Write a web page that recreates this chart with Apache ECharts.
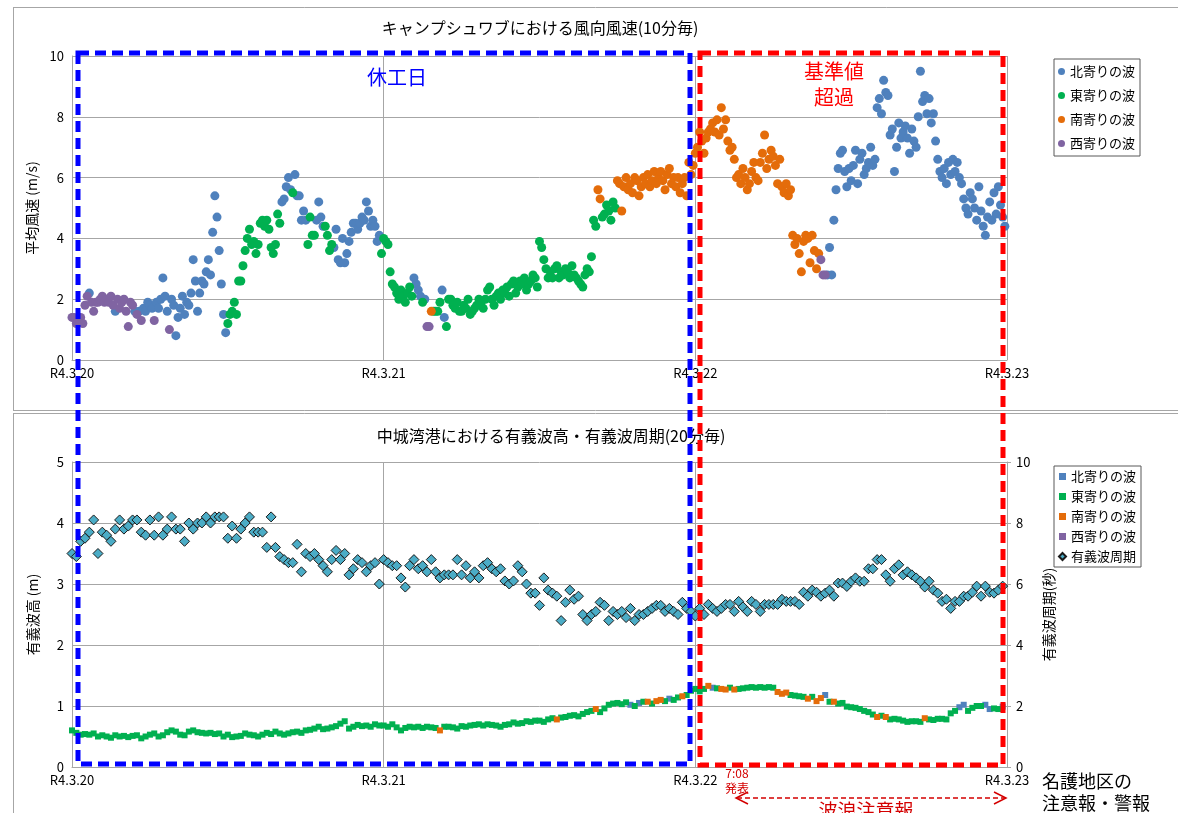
<!DOCTYPE html>
<html>
<head>
<meta charset="utf-8">
<script src="https://cdn.jsdelivr.net/npm/echarts@6/dist/echarts.min.js"></script>
<style>
html,body{margin:0;padding:0;background:#fff;}
#c{width:1178px;height:813px;}
</style>
</head>
<body>
<div id="c"></div>
<script>
// ---- Data ----
const dateLabels = ['R4.3.20', 'R4.3.21', 'R4.3.22', 'R4.3.23'];
const dirCodes = ['N', 'E', 'S', 'W'];
const dirNames = ['北寄りの波', '東寄りの波', '南寄りの波', '西寄りの波'];
const periodName = '有義波周期';

// 10-minute mean wind speed (m/s), 6 values per hour, 72 hours from R4.3.20 0:00
const windSpeed = [
 1.4,1.4,1.2,1.3,1.4,1.2, 1.8,2.1,2.2,1.9,1.6,1.9, 1.9,2.0,2.1,1.9,2.0,1.9, 2.1,1.8,1.6,2.0,1.7,1.9,
 2.0,1.6,1.1,1.9,1.8,1.6, 1.5,1.6,1.3,1.7,1.6,1.9, 1.8,1.7,1.3,1.9,1.7,2.0, 2.7,2.1,1.6,1.0,2.0,1.8,
 0.8,1.4,1.7,2.1,1.5,1.9, 1.8,2.2,3.3,2.6,1.6,2.2, 2.6,2.5,2.9,3.3,2.8,4.2, 5.4,4.7,3.6,2.5,1.5,0.9,
 1.2,1.5,1.6,1.9,1.5,2.6, 2.6,3.1,3.6,4.0,4.3,3.8, 3.9,3.5,3.8,4.5,4.6,4.4, 4.6,4.3,3.7,3.5,3.8,4.8,
 4.5,5.2,5.3,5.7,6.0,5.6, 5.5,6.1,5.4,5.4,4.6,4.9, 4.6,3.8,4.7,4.1,4.1,4.6, 5.2,4.7,4.4,4.4,4.1,3.6,
 3.8,3.7,4.3,3.3,3.2,4.0, 3.2,3.5,3.9,4.2,4.5,4.5, 4.3,4.5,4.7,4.6,5.2,4.9, 4.4,4.6,4.4,3.9,4.1,3.5,
 4.0,3.9,3.8,2.9,2.5,2.4, 2.2,2.0,2.3,2.1,1.9,2.2, 2.4,2.1,2.7,2.5,2.3,2.1, 1.9,2.0,1.1,1.1,1.6,1.6,
 1.6,1.6,1.9,2.3,1.4,1.1, 2.0,2.0,1.8,1.7,1.9,1.6, 1.6,1.8,1.7,2.0,1.5,1.6, 1.7,1.8,2.0,1.9,1.7,2.0,
 2.3,2.4,2.0,1.8,2.1,2.2, 2.0,2.3,2.2,2.4,2.1,2.5, 2.6,2.2,2.4,2.6,2.5,2.7, 2.3,2.5,2.6,2.8,2.7,2.4,
 3.9,3.7,3.3,3.0,2.7,2.9, 2.7,3.0,3.1,2.7,2.9,2.8, 3.0,2.9,2.7,3.1,2.8,2.7, 2.6,2.5,2.4,2.8,3.0,2.9,
 3.4,4.6,4.4,5.6,5.3,4.7, 4.8,5.1,4.9,4.6,5.2,5.0, 5.9,5.8,4.9,5.7,6.0,5.6, 5.8,5.5,6.0,5.9,5.4,5.7,
 6.0,5.8,6.1,5.7,5.9,6.2, 5.8,6.0,6.2,5.9,5.6,6.1, 6.3,5.8,6.0,5.7,6.0,5.5, 5.8,6.0,5.4,6.5,6.1,6.4,
 6.8,7.0,7.5,7.2,6.8,7.3, 7.5,7.6,7.8,7.5,7.9,7.4, 8.3,7.6,7.9,7.2,6.9,7.0, 6.6,6.0,6.1,5.8,6.3,6.0,
 5.6,5.8,6.2,6.5,6.0,5.9, 6.5,6.8,7.4,6.3,6.6,6.9, 6.7,6.4,5.8,6.6,5.7,5.5, 5.8,5.4,5.6,4.1,3.8,4.0,
 3.5,2.9,3.9,4.1,4.0,3.2, 4.1,3.6,3.0,3.5,3.3,2.8, 2.8,2.8,3.7,2.8,4.6,5.6, 6.3,6.8,6.9,6.2,5.7,6.3,
 5.9,6.4,6.9,5.8,6.6,6.8, 6.1,6.3,6.5,7.0,6.4,6.6, 8.3,8.6,8.1,9.2,8.8,8.7, 7.4,7.6,6.2,7.0,7.8,7.3,
 7.5,7.7,7.3,6.8,7.6,7.2, 7.0,8.0,9.5,8.5,8.7,8.1, 8.6,7.8,8.1,7.2,6.6,6.2, 6.0,6.3,5.8,6.5,6.1,6.6,
 6.2,6.5,6.0,5.8,5.3,5.0, 4.8,5.5,5.3,5.0,4.6,5.7, 4.9,4.4,4.1,4.7,5.2,4.6, 5.5,4.8,5.7,5.1,4.7,4.4
];
// wind direction class for each 10-minute value (N/E/S/W)
const windDir = (
 'WWWWWW WWNWWW WWWWWW WWNWWW WWWWWN WNWNNN NNWNNN NNNWNN ' +
 'NNNNNN NNNNNN NNNNNN NNNNNN EEEEEE EEEEEE EEEEEE EEEEEE ' +
 'ENNNNN ENNNNN NEEEEN NNNEEE ENNNNN NNNNNN NNNNNN NNNNNE ' +
 'EEEEEE EEEEEE EENNNN ENWWSE EEENNE EEEEEE EEEEEE EEEEEE ' +
 'EEEEEE EEEEEE EEEEEE EEEEEE EEEEEE EEEEEE EEEEEE EEEEEE ' +
 'EEESSE EEEEEE SSSSSS SSSSSS SSSSSS SSSSSS SSSSSS SSSSSS ' +
 'SSSSSS SSSSSS SSSSSS SSSSSS SSSSSS SSSSSS SSSSSS SSSSSS ' +
 'SSSSSS SSSSWW WNNNNN NNNNNN NNNNNN NNNNNN NNNNNN NNNNNN ' +
 'NNNNNN NNNNNN NNNNNN NNNNNN NNNNNN NNNNNN NNNNNN NNNNNN'
).replace(/ /g, '').split('');

// 20-minute significant wave height (m), 3 values per hour
const waveHeight = [
 0.60,0.56,0.53, 0.54,0.53,0.55, 0.50,0.52,0.50, 0.48,0.52,0.50, 0.51,0.49,0.51, 0.52,0.47,0.50,
 0.53,0.55,0.50, 0.52,0.57,0.60, 0.58,0.53,0.52, 0.58,0.60,0.57, 0.56,0.55,0.56, 0.54,0.55,0.50,
 0.53,0.49,0.50, 0.51,0.55,0.53, 0.52,0.50,0.53, 0.56,0.54,0.58, 0.55,0.53,0.55, 0.57,0.58,0.56,
 0.60,0.61,0.63, 0.66,0.62,0.63, 0.65,0.67,0.71, 0.75,0.63,0.66, 0.69,0.67,0.68, 0.66,0.70,0.68,
 0.68,0.66,0.70, 0.65,0.60,0.64, 0.66,0.65,0.66, 0.64,0.66,0.65, 0.64,0.60,0.66, 0.66,0.65,0.63,
 0.67,0.66,0.68, 0.69,0.70,0.68, 0.70,0.69,0.68, 0.66,0.69,0.70, 0.73,0.71,0.72, 0.75,0.74,0.76,
 0.76,0.74,0.78, 0.80,0.78,0.81, 0.82,0.84,0.85, 0.83,0.87,0.90, 0.92,0.95,0.90, 0.96,1.02,1.04,
 1.05,1.03,1.06, 1.02,1.00,1.05, 1.07,1.07,1.04, 1.08,1.10,1.08, 1.12,1.10,1.14, 1.16,1.18,1.25,
 1.28,1.24,1.28, 1.33,1.30,1.29, 1.28,1.27,1.30, 1.27,1.28,1.29, 1.30,1.31,1.30, 1.31,1.30,1.31,
 1.30,1.23,1.20, 1.22,1.18,1.17, 1.16,1.15,1.12, 1.15,1.08,1.13, 1.18,1.07,1.07, 1.04,1.05,0.99,
 0.98,0.97,0.95, 0.92,0.90,0.86, 0.82,0.84,0.82, 0.78,0.79,0.78, 0.76,0.74,0.75, 0.75,0.74,0.80,
 0.78,0.77,0.79, 0.79,0.78,0.88, 0.92,0.98,1.02, 0.92,0.97,1.00, 1.00,1.02,0.95, 0.96,0.95,0.99
];
const waveDir = (
 'EEE EEE EEE EEE EEE EEE EEE EEE EEE EEE EEE EEE ' +
 'EEE EEE EEE EEE EEE EEE EEE EEE EEE EEE EEE EEE ' +
 'EEE EEE EEE EEE ESE EEE EEE EEE EEE EEE EEE EEE ' +
 'EEE ESE EEE EEE ESE EEE EEE NEN ESE SSE NEE SEE ' +
 'EEE SNE SSE SEE EEE EEE ESS SEE EES ESS NES EEE ' +
 'EEE EEE SES EEE EEE EES EEE EEE ENN EEE ENN EEN'
).replace(/ /g, '').split('');

// significant wave period (s), 3 values per hour
const wavePeriod = [
 7.0,6.9,7.4,7.5,7.7,8.1,7.0,7.7,7.6,7.4,7.8,8.1,7.8,7.9,8.1,8.1,7.7,7.6,8.1,7.6,8.2,7.6,7.8,8.2,
 7.8,7.8,7.4,8.0,7.8,8.0,8.0,8.2,8.0,8.2,8.2,8.2,7.5,7.9,7.5,7.8,8.0,8.2,7.7,7.7,7.7,7.2,8.2,7.2,
 6.9,6.8,6.7,6.7,7.3,6.4,7.0,6.9,7.0,6.8,6.6,6.4,6.8,7.1,6.8,7.0,6.3,6.5,6.8,6.7,6.4,6.6,6.7,6.0,
 6.8,6.7,6.6,6.6,6.2,5.9,6.6,6.8,6.5,6.6,6.4,6.8,6.4,6.2,6.3,6.3,6.3,6.8,6.3,6.6,6.2,6.4,6.2,6.6,
 6.7,6.5,6.4,6.5,6.1,6.0,6.1,6.6,6.4,6.0,5.7,5.7,5.3,6.2,5.8,5.7,5.6,4.8,5.4,5.8,5.5,5.6,5.0,4.8,
 5.0,5.1,5.4,5.3,4.8,5.1,5.0,5.1,4.9,5.2,4.8,5.0,5.0,5.1,5.2,5.3,5.3,5.1,5.2,5.1,5.0,5.4,5.2,5.1,
 4.95,5.2,5.0,5.33,5.2,5.1,5.2,5.33,5.33,5.1,5.43,5.25,5.1,5.43,5.33,5.1,5.33,5.33,5.33,5.33,5.5,5.43,5.43,5.43,
 5.33,5.73,5.6,5.8,5.73,5.6,5.7,5.8,5.6,6.03,6.03,5.92,6.09,6.2,6.09,6.09,6.5,6.5,6.8,6.8,6.3,6.09,6.5,6.63,
 6.3,6.4,6.3,6.2,6.09,5.9,6.09,5.8,5.7,5.43,5.5,5.2,5.43,5.43,5.6,5.6,5.73,5.93,5.6,5.93,5.73,5.7,5.8,5.93
];

// ---- Styles ----
const dirColors = ['#4f81bd', '#00b050', '#e46c0a', '#8064a2'];
const periodColor = '#4bacc6';
const FONT = '"Noto Sans CJK JP", "Noto Sans", sans-serif';
const gridColor = '#a6a6a6';

const chart = echarts.init(document.getElementById('c'), null, { renderer: 'canvas' });

function xAxis(gridIndex) {
  return {
    type: 'value', gridIndex, min: 0, max: 72, interval: 24,
    axisLine: { show: true, lineStyle: { color: gridColor } },
    axisTick: { show: false },
    splitLine: { show: true, lineStyle: { color: gridColor } },
    axisLabel: {
      color: '#000', fontSize: 13, fontFamily: FONT, margin: 7,
      showMinLabel: true, showMaxLabel: true,
      formatter: v => dateLabels[Math.round(v / 24)]
    }
  };
}

const series = [];
dirCodes.forEach((code, k) => {
  const data = [];
  windSpeed.forEach((v, i) => { if (windDir[i] === code) data.push([i / 6, v]); });
  series.push({
    name: dirNames[k], type: 'scatter', xAxisIndex: 0, yAxisIndex: 0,
    symbol: 'circle', symbolSize: 9, data,
    itemStyle: { color: dirColors[k], opacity: 1 },
    emphasis: { disabled: true }, z: 2
  });
});
dirCodes.forEach((code, k) => {
  const data = [];
  waveHeight.forEach((v, i) => { if (waveDir[i] === code) data.push([i / 3, v]); });
  series.push({
    name: dirNames[k], type: 'scatter', xAxisIndex: 1, yAxisIndex: 1,
    symbol: 'rect', symbolSize: 6, data,
    itemStyle: { color: dirColors[k], opacity: 1 },
    emphasis: { disabled: true }, z: 2
  });
});
series.push({
  name: periodName, type: 'scatter', xAxisIndex: 1, yAxisIndex: 2,
  symbol: 'diamond', symbolSize: [10, 10],
  data: wavePeriod.map((v, i) => [i / 3, v]),
  itemStyle: { color: periodColor, borderColor: '#1a1a1a', borderWidth: 1, opacity: 1 },
  emphasis: { disabled: true }, z: 3
});

const RED = '#ff0000', DRED = '#d40000', BLUE = '#0000ff';

const option = {
  animation: false,
  backgroundColor: '#fff',
  textStyle: { fontFamily: FONT },
  grid: [
    { left: 72, top: 56, width: 935, height: 304, outerBoundsMode: 'none', containLabel: false },
    { left: 72, top: 462, width: 935, height: 305, outerBoundsMode: 'none', containLabel: false }
  ],
  xAxis: [xAxis(0), xAxis(1)],
  yAxis: [
    {
      type: 'value', gridIndex: 0, min: 0, max: 10, interval: 2,
      name: '平均風速 (m/s)', nameLocation: 'middle', nameGap: 32, nameRotate: 90,
      nameTextStyle: { color: '#000', fontSize: 14, fontFamily: FONT },
      axisLine: { show: true, lineStyle: { color: gridColor } },
      axisTick: { show: false },
      splitLine: { show: true, lineStyle: { color: gridColor } },
      axisLabel: { color: '#000', fontSize: 13, fontFamily: FONT, margin: 8 }
    },
    {
      type: 'value', gridIndex: 1, min: 0, max: 5, interval: 1,
      name: '有義波高 (m)', nameLocation: 'middle', nameGap: 32, nameRotate: 90,
      nameTextStyle: { color: '#000', fontSize: 14, fontFamily: FONT },
      axisLine: { show: true, lineStyle: { color: gridColor } },
      axisTick: { show: false },
      splitLine: { show: true, lineStyle: { color: gridColor } },
      axisLabel: { color: '#000', fontSize: 13, fontFamily: FONT, margin: 8 }
    },
    {
      type: 'value', gridIndex: 1, position: 'right', min: 0, max: 10, interval: 2,
      name: '有義波周期(秒)', nameLocation: 'middle', nameGap: 31, nameRotate: 90,
      nameTextStyle: { color: '#000', fontSize: 14, fontFamily: FONT },
      axisLine: { show: true, lineStyle: { color: gridColor } },
      axisTick: { show: true, inside: false, length: 4, lineStyle: { color: gridColor } },
      splitLine: { show: false },
      axisLabel: { color: '#000', fontSize: 13, fontFamily: FONT, margin: 9 }
    }
  ],
  legend: [
    {
      left: 1054, top: 59, orient: 'vertical', itemGap: 11,
      itemWidth: 7, itemHeight: 7, padding: [6, 5, 6, 4],
      borderColor: '#595959', borderWidth: 1, selectedMode: false,
      textStyle: { color: '#000', fontSize: 13, fontFamily: FONT },
      data: dirNames.map(n => ({ name: n, icon: 'circle' }))
    },
    {
      left: 1054, top: 466, orient: 'vertical', itemGap: 7,
      itemWidth: 7, itemHeight: 7, padding: [4, 5, 4, 4],
      borderColor: '#595959', borderWidth: 1, selectedMode: false,
      textStyle: { color: '#000', fontSize: 13, fontFamily: FONT },
      data: dirNames.map(n => ({ name: n, icon: 'rect' })).concat([{ name: periodName, icon: 'diamond' }])
    }
  ],
  series,
  graphic: [
    // chart frames
    { type: 'line', shape: { x1: 13, y1: 7.5, x2: 1178, y2: 7.5 }, style: { stroke: '#a6a6a6', lineWidth: 1 }, z: 0 },
    { type: 'line', shape: { x1: 13.5, y1: 7, x2: 13.5, y2: 411 }, style: { stroke: '#a6a6a6', lineWidth: 1 }, z: 0 },
    { type: 'line', shape: { x1: 13, y1: 410.5, x2: 1178, y2: 410.5 }, style: { stroke: '#a6a6a6', lineWidth: 1 }, z: 0 },
    { type: 'line', shape: { x1: 13, y1: 413.5, x2: 1178, y2: 413.5 }, style: { stroke: '#a6a6a6', lineWidth: 1 }, z: 0 },
    { type: 'line', shape: { x1: 13.5, y1: 413, x2: 13.5, y2: 813 }, style: { stroke: '#a6a6a6', lineWidth: 1 }, z: 0 },
    // titles
    { type: 'text', x: 540, y: 28, z: 50, style: { text: 'キャンプシュワブにおける風向風速(10分毎)', font: '16px ' + FONT, fill: '#000', textAlign: 'center', textVerticalAlign: 'middle' } },
    { type: 'text', x: 551, y: 436, z: 50, style: { text: '中城湾港における有義波高・有義波周期(20分毎)', font: '16px ' + FONT, fill: '#000', textAlign: 'center', textVerticalAlign: 'middle' } },
    // dashed boxes
    { type: 'rect', z: 100, shape: { x: 78, y: 53, width: 612, height: 711 }, style: { fill: 'none', stroke: BLUE, lineWidth: 5, lineDash: [11, 6] } },
    { type: 'rect', z: 100, shape: { x: 700, y: 53, width: 303, height: 712 }, style: { fill: 'none', stroke: RED, lineWidth: 5, lineDash: [11, 6] } },
    // annotations
    { type: 'text', x: 397, y: 77, z: 101, style: { text: '休工日', font: '20px ' + FONT, fill: BLUE, textAlign: 'center', textVerticalAlign: 'middle' } },
    { type: 'text', x: 834, y: 71, z: 101, style: { text: '基準値', font: '20px ' + FONT, fill: RED, textAlign: 'center', textVerticalAlign: 'middle' } },
    { type: 'text', x: 834, y: 97, z: 101, style: { text: '超過', font: '20px ' + FONT, fill: RED, textAlign: 'center', textVerticalAlign: 'middle' } },
    { type: 'text', x: 737, y: 773, z: 101, style: { text: '7:08', font: '12px ' + FONT, fill: DRED, textAlign: 'center', textVerticalAlign: 'middle' } },
    { type: 'text', x: 737, y: 788, z: 101, style: { text: '発表', font: '12px ' + FONT, fill: DRED, textAlign: 'center', textVerticalAlign: 'middle' } },
    { type: 'line', z: 101, shape: { x1: 737, y1: 798, x2: 1005, y2: 798 }, style: { stroke: DRED, lineWidth: 1.5, lineDash: [5, 3] } },
    { type: 'polyline', z: 101, shape: { points: [[748, 792], [736, 798], [748, 804]] }, style: { stroke: DRED, lineWidth: 1.5, fill: 'none' } },
    { type: 'polyline', z: 101, shape: { points: [[994, 792], [1006, 798], [994, 804]] }, style: { stroke: DRED, lineWidth: 1.5, fill: 'none' } },
    { type: 'text', x: 866, y: 811, z: 101, style: { text: '波浪注意報', font: '19px ' + FONT, fill: DRED, textAlign: 'center', textVerticalAlign: 'middle' } },
    { type: 'text', x: 1042, y: 781, z: 101, style: { text: '名護地区の', font: '18px ' + FONT, fill: '#000', textAlign: 'left', textVerticalAlign: 'middle' } },
    { type: 'text', x: 1042, y: 803, z: 101, style: { text: '注意報・警報', font: '18px ' + FONT, fill: '#000', textAlign: 'left', textVerticalAlign: 'middle' } }
  ]
};
chart.setOption(option);
</script>
</body>
</html>
